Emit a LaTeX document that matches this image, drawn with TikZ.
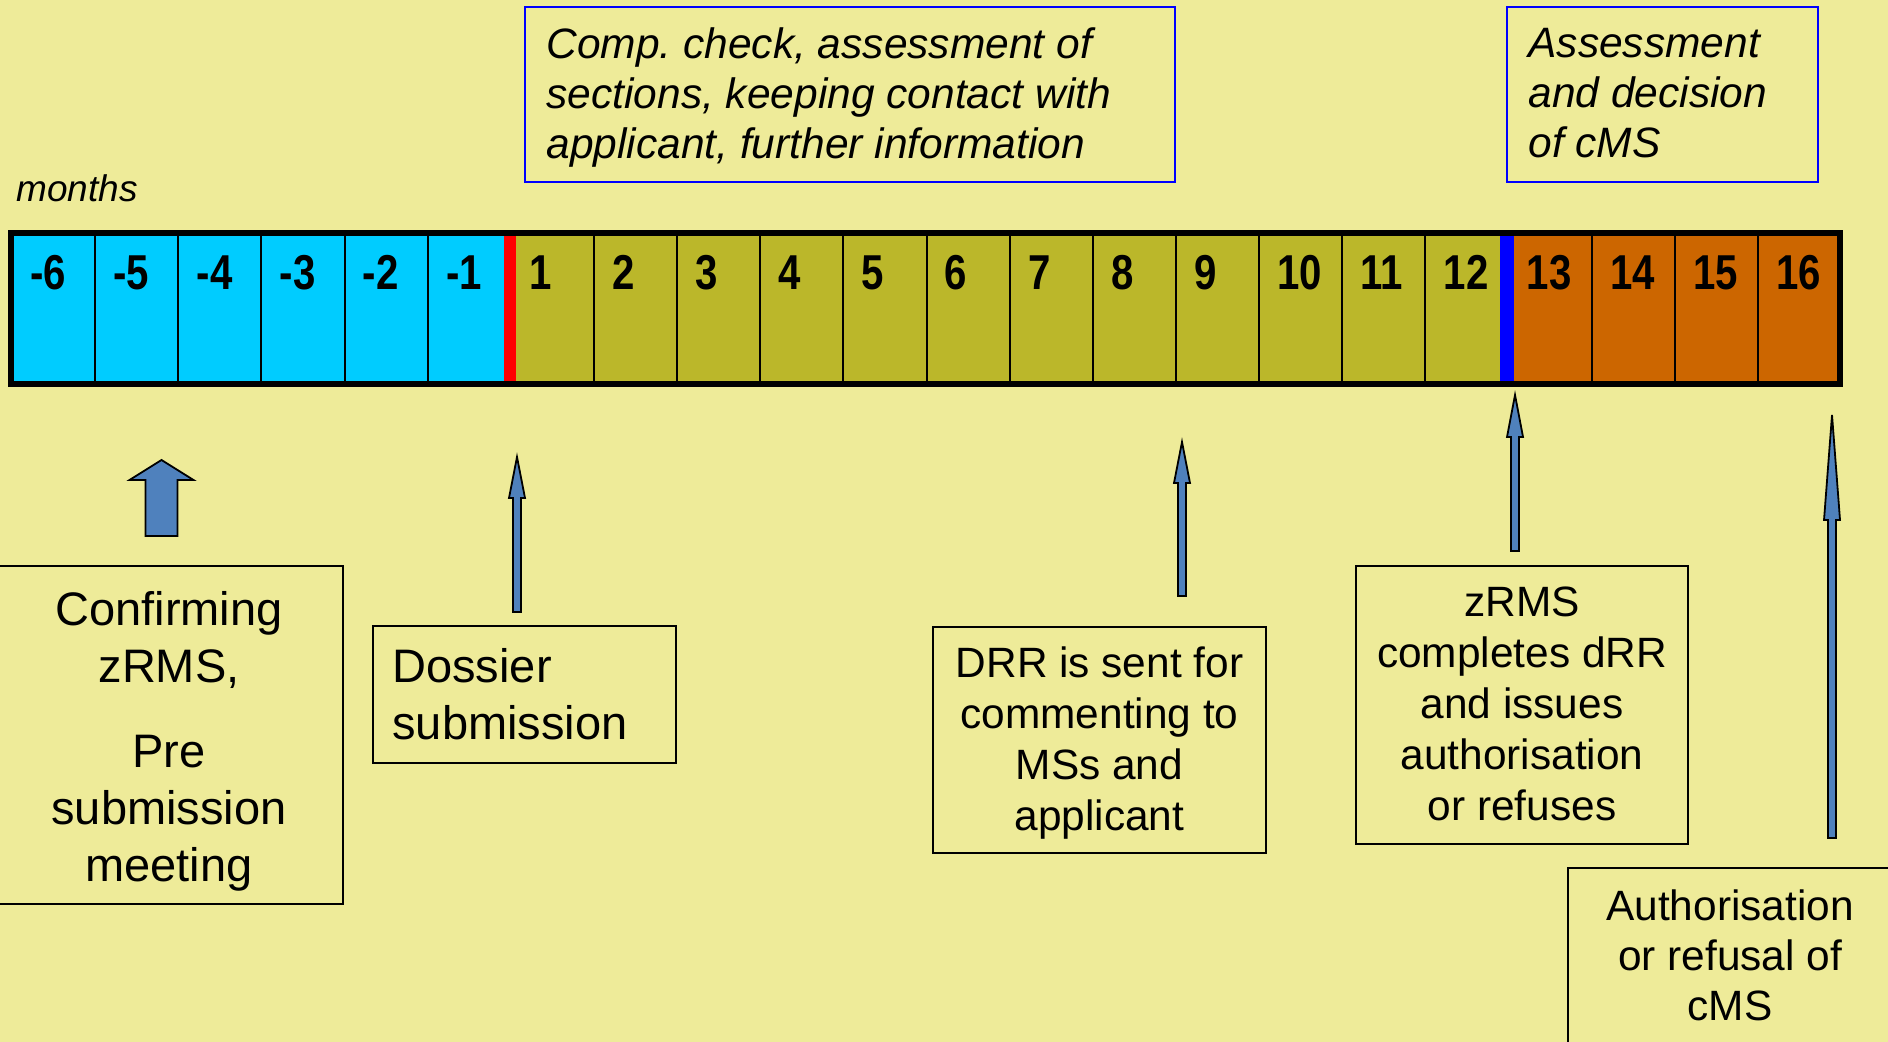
\documentclass[tikz,border=0pt]{standalone}
\usepackage{fontspec}
\setmainfont{Liberation Sans}
\newfontfamily\numfont[FakeStretch=0.82]{Liberation Sans}
\usetikzlibrary{calc}
\frenchspacing

\definecolor{bg}{RGB}{238,235,153}
\definecolor{premonth}{RGB}{0,204,255}
\definecolor{evalmonth}{RGB}{187,183,42}
\definecolor{decmonth}{RGB}{204,102,0}
\definecolor{arrowblue}{RGB}{79,129,189}

\tikzset{
  cellbox/.style={draw=black, line width=1pt, minimum width=41.568pt,
    minimum height=75.5pt, anchor=north west, inner sep=0pt},
  monthnum/.style={font=\numfont\bfseries\fontsize{24.5}{29}\selectfont,
    anchor=base west, inner sep=0pt},
  phasebox/.style={draw=blue, line width=1pt, inner sep=0pt},
  notebox/.style={draw=black, line width=1pt, inner sep=0pt},
  phasetext/.style={font=\itshape\fontsize{21.25}{25}\selectfont,
    align=left, inner sep=0pt, anchor=north west},
  bigtext/.style={font=\fontsize{23.5}{28.5}\selectfont, inner sep=0pt},
  smalltext/.style={font=\fontsize{21.2}{25.5}\selectfont, inner sep=0pt,
    align=center, anchor=north},
  pointer/.style={draw=black, line width=0.9pt, fill=arrowblue, line join=miter},
}

% upward block arrow: #1 tip, #2 tail, #3 half shaft width,
% #4 half head width, #5 head length (units are pixels, y grows downward)
\newcommand{\uparrowpath}[5]{%
  \draw[pointer] (#1) -- ($(#1)+(#4,#5)$) -- ($(#1)+(#3,#5)$)
    -- ($(#2)+(#3,0)$) -- ($(#2)+(-#3,0)$) -- ($(#1)+(-#3,#5)$)
    -- ($(#1)+(-#4,#5)$) -- cycle;}

\begin{document}
\begin{tikzpicture}[x=0.5pt,y=-0.5pt]
\useasboundingbox (0,0) rectangle (1888,1042);
\fill[bg] (0,0) rectangle (1888,1042);

% phase descriptions above the time line
\node[phasebox, minimum width=325pt, minimum height=87.5pt] (phase1) at (850,94.5) {};
\node[phasebox, minimum width=155.5pt, minimum height=87.5pt] (phase2) at (1662.5,94.5) {};
\node[phasetext] (ph1txt) at (546,23)
  {\strut Comp. check, assessment of\\sections, keeping contact with\\applicant, further information};
\node[phasetext] (ph2txt) at (1528,22)
  {\strut Assessment\\and decision\\of cMS};

\node[font=\itshape\fontsize{18.5}{22}\selectfont, anchor=base west, inner sep=0pt]
  (months) at (16,202) {months};

% month cells
\foreach \lab [count=\i from 0] in {-6,-5,-4,-3,-2,-1} {
  \node[cellbox, fill=premonth] (m\i) at ({11+\i*83.136},233) {};
}
\foreach \lab [count=\i from 6] in {1,...,12} {
  \node[cellbox, fill=evalmonth] (m\i) at ({11+\i*83.136},233) {};
}
\foreach \lab [count=\i from 18] in {13,...,16} {
  \node[cellbox, fill=decmonth] (m\i) at ({11+\i*83.136},233) {};
}
% phase separators
\fill[red] (503.8,236) rectangle (515.8,381);
\fill[blue] (1500.4,236) rectangle (1514.4,381);
% outer frame
\draw[line width=3pt] (11,233) rectangle (1840,384);

% month numbers
\foreach \lab [count=\i from 0] in {-6,-5,-4,-3,-2,-1,1,2,3,4,5,6,7,8,9,10,11,12,13,14,15,16} {
  \node[monthnum] (t\i) at ({11+\i*83.136+19},290) {\lab};
}

% event notes
\node[notebox, minimum width=175.5pt, minimum height=169pt] (boxA) at (167.5,735) {};
\node[bigtext, align=center, anchor=north] (txtA) at (169,585)
  {\strut Confirming\\zRMS,\\[14pt]Pre\\submission\\meeting};

\node[notebox, minimum width=151.5pt, minimum height=68.5pt] (boxB) at (524.5,694.5) {};
\node[bigtext, align=left, anchor=north west] (txtB) at (392,642)
  {\strut Dossier\\submission};

\node[notebox, minimum width=166.5pt, minimum height=113pt] (boxC) at (1099.5,740) {};
\node[smalltext] (txtC) at (1099.5,641)
  {\strut DRR is sent for\\commenting to\\MSs and\\applicant};

\node[notebox, minimum width=166pt, minimum height=139pt] (boxD) at (1522,705) {};
\node[smalltext] (txtD) at (1522,580)
  {\strut zRMS\\completes dRR\\and issues\\authorisation\\or refuses};

\node[notebox, minimum width=162pt, minimum height=96pt] (boxE) at (1730,964) {};
\node[smalltext, font=\fontsize{21.2}{25}\selectfont] (txtE) at (1730,885)
  {\strut Authorisation\\or refusal of\\cMS};

% pointers to the time line
\coordinate (p1tip) at (161.5,460);  \coordinate (p1tail) at (161.5,536);
\coordinate (p2tip) at (517,457);    \coordinate (p2tail) at (517,612);
\coordinate (p3tip) at (1182,442);   \coordinate (p3tail) at (1182,596);
\coordinate (p4tip) at (1515,395);   \coordinate (p4tail) at (1515,551);
\coordinate (p5tip) at (1832,415);   \coordinate (p5tail) at (1832,838);

\uparrowpath{p1tip}{p1tail}{16}{32}{20}
\uparrowpath{p2tip}{p2tail}{4}{8}{41}
\uparrowpath{p3tip}{p3tail}{4}{8}{41}
\uparrowpath{p4tip}{p4tail}{4}{8}{42}
\uparrowpath{p5tip}{p5tail}{4}{8}{105}
\end{tikzpicture}
\end{document}
